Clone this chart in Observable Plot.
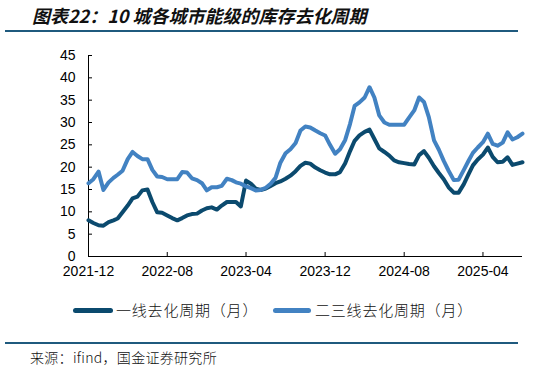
<!DOCTYPE html>
<html><head><meta charset="utf-8">
<script src="https://cdn.jsdelivr.net/npm/d3@7"></script>
<script src="https://cdn.jsdelivr.net/npm/@observablehq/plot@0.6"></script>
<style>
body{margin:0;background:#fff;}
#wrap{position:relative;width:559px;height:372px;overflow:hidden;background:#fff;}
#title{position:absolute;left:32px;top:3px;font-family:"Noto Sans CJK SC",sans-serif;font-weight:700;font-style:italic;font-size:18px;letter-spacing:0px;color:#111;white-space:nowrap;line-height:24px;}
.rule{position:absolute;left:5px;width:513px;height:2px;background:#1f5a7e;}
#chart{position:absolute;left:0;top:40px;}
.sw{position:absolute;height:5px;border-radius:3px;}
.lt{position:absolute;font-family:"Noto Sans CJK SC",sans-serif;font-size:15px;letter-spacing:0.8px;line-height:20px;color:#111;white-space:nowrap;font-weight:300;}
#source{position:absolute;left:30px;top:347px;font-family:"Noto Sans CJK SC",sans-serif;font-size:14px;letter-spacing:0.3px;line-height:20px;color:#111;white-space:nowrap;font-weight:300;}
</style></head>
<body>
<div id="wrap">
  <div id="title"></div>
  <div class="rule" style="top:30px"></div>
  <div id="chart"></div>
  <div class="sw" id="sw0" style="left:73px;top:308px;width:40px;"></div>
  <div class="lt" id="lt0" style="left:116px;top:300px;"></div>
  <div class="sw" id="sw1" style="left:273px;top:308px;width:38px;"></div>
  <div class="lt" id="lt1" style="left:315px;top:300px;"></div>
  <div class="rule" style="top:342px"></div>
  <div id="source"></div>
</div>
<script>
const titleText = "图表22：10 城各城市能级的库存去化周期";
const sourceText = "来源：ifind，国金证券研究所";
const seriesNames = ["一线去化周期（月）", "二三线去化周期（月）"];
const seriesColors = ["#0b4a6e", "#4282c2"];
const tickLabels = ["2021-12", "2022-08", "2023-04", "2023-12", "2024-08", "2025-04"];
const yTicks = [0, 5, 10, 15, 20, 25, 30, 35, 40, 45];

const dates = [
  "2021-12-01","2021-12-16",
  "2022-01-01","2022-01-16","2022-02-01","2022-02-16","2022-03-01","2022-03-16",
  "2022-04-01","2022-04-16","2022-05-01","2022-05-16","2022-06-01","2022-06-16",
  "2022-07-01","2022-07-16","2022-08-01","2022-08-16","2022-09-01","2022-09-16",
  "2022-10-01","2022-10-16","2022-11-01","2022-11-16","2022-12-01","2022-12-16",
  "2023-01-01","2023-01-16","2023-02-01","2023-02-16","2023-03-01","2023-03-16",
  "2023-04-01","2023-04-16","2023-05-01","2023-05-16","2023-06-01","2023-06-16",
  "2023-07-01","2023-07-16","2023-08-01","2023-08-16","2023-09-01","2023-09-16",
  "2023-10-01","2023-10-16","2023-11-01","2023-11-16","2023-12-01","2023-12-16",
  "2024-01-01","2024-01-16","2024-02-01","2024-02-16","2024-03-01","2024-03-16",
  "2024-04-01","2024-04-16","2024-05-01","2024-05-16","2024-06-01","2024-06-16",
  "2024-07-01","2024-07-16","2024-08-01","2024-08-16","2024-09-01","2024-09-16",
  "2024-10-01","2024-10-16","2024-11-01","2024-11-16","2024-12-01","2024-12-16",
  "2025-01-01","2025-01-16","2025-02-01","2025-02-16","2025-03-01","2025-03-16",
  "2025-04-01","2025-04-16","2025-05-01","2025-05-16","2025-06-01","2025-06-16",
  "2025-07-01","2025-07-16","2025-08-01"
];

const tier1 = [
  8.1, 7.5, 7.0, 6.9, 7.7, 8.1, 8.5, 9.9, 11.4, 13.0,
  13.4, 14.8, 15.0, 12.2, 9.9, 9.8, 9.2, 8.6, 8.1, 8.6,
  9.2, 9.5, 9.6, 10.3, 10.8, 11.0, 10.5, 11.4, 12.2, 12.2,
  12.2, 11.2, 17.0, 16.3, 15.2, 14.9, 15.2, 15.8, 16.4, 16.8,
  17.4, 18.1, 19.1, 20.3, 21.0, 20.8, 19.9, 19.3, 18.8, 18.4,
  18.4, 18.9, 20.9, 23.6, 25.9, 27.1, 27.9, 28.4, 26.3, 24.2,
  23.4, 22.6, 21.5, 21.1, 20.9, 20.7, 20.6, 22.7, 23.6, 22.1,
  20.2, 18.7, 17.3, 15.5, 14.3, 14.3, 16.2, 18.5, 20.4, 21.7,
  22.8, 24.4, 22.3, 21.1, 21.2, 22.2, 20.5, 20.8, 21.1
];

const tier23 = [
  16.4, 17.3, 19.0, 14.9, 16.6, 17.6, 18.3, 19.2, 21.8, 23.4,
  22.5, 21.8, 21.8, 19.4, 17.9, 17.8, 17.3, 17.3, 17.3, 18.9,
  18.8, 17.5, 17.1, 16.4, 14.8, 15.5, 15.5, 15.8, 17.4, 17.1,
  16.6, 16.3, 15.7, 15.3, 14.8, 14.9, 15.4, 16.3, 17.6, 21.0,
  23.1, 24.0, 25.4, 28.2, 29.1, 28.9, 28.2, 27.6, 27.1, 25.0,
  23.0, 24.0, 26.1, 29.7, 33.7, 34.5, 35.6, 37.9, 35.6, 31.6,
  30.0, 29.5, 29.5, 29.5, 29.5, 31.1, 32.7, 35.6, 34.6, 31.2,
  26.0, 23.9, 21.4, 19.2, 17.1, 17.2, 19.4, 21.5, 23.2, 24.4,
  25.6, 27.5, 25.2, 24.8, 25.5, 27.8, 26.2, 26.7, 27.5
];

const parseDay = d3.utcParse("%Y-%m-%d");
const parseMonth = d3.utcParse("%Y-%m");
const fmtMonth = d3.utcFormat("%Y-%m");

const rows = [];
[tier1, tier23].forEach((vals, s) => {
  vals.forEach((v, i) => rows.push({date: parseDay(dates[i]), value: v, series: seriesNames[s]}));
});

const xTicks = tickLabels.map(parseMonth);
const x0 = parseDay(dates[0]), x1 = parseDay(dates[dates.length - 1]);

document.getElementById("title").textContent = titleText;
document.getElementById("source").textContent = sourceText;
document.getElementById("lt0").textContent = seriesNames[0];
document.getElementById("lt1").textContent = seriesNames[1];
document.getElementById("sw0").style.background = seriesColors[0];
document.getElementById("sw1").style.background = seriesColors[1];

const chart = Plot.plot({
  width: 559,
  height: 250,
  marginLeft: 88,
  marginRight: 37,
  marginTop: 15,
  marginBottom: 34,
  style: {fontFamily: "'Liberation Sans', Arial, sans-serif", fontSize: "14px", color: "#000", background: "transparent"},
  x: {type: "utc", domain: [x0, x1]},
  y: {domain: [0, 45]},
  color: {domain: seriesNames, range: seriesColors},
  marks: [
    Plot.axisY({ticks: yTicks, tickSize: -4, tickPadding: 17, label: null, stroke: "#000", strokeWidth: 1}),
    Plot.axisX({ticks: xTicks, tickSize: -4, tickPadding: 14, tickFormat: fmtMonth, label: null, stroke: "#000", strokeWidth: 1}),
    Plot.ruleY([0], {stroke: "#000", strokeWidth: 1}),
    Plot.ruleX([x0], {stroke: "#000", strokeWidth: 1}),
    Plot.lineY(rows.filter(d => d.series === seriesNames[0]), {x: "date", y: "value", stroke: "series", strokeWidth: 4, strokeLinejoin: "round"}),
    Plot.lineY(rows.filter(d => d.series === seriesNames[1]), {x: "date", y: "value", stroke: "series", strokeWidth: 4, strokeLinejoin: "round"})
  ]
});
document.getElementById("chart").appendChild(chart);
</script>
</body></html>
